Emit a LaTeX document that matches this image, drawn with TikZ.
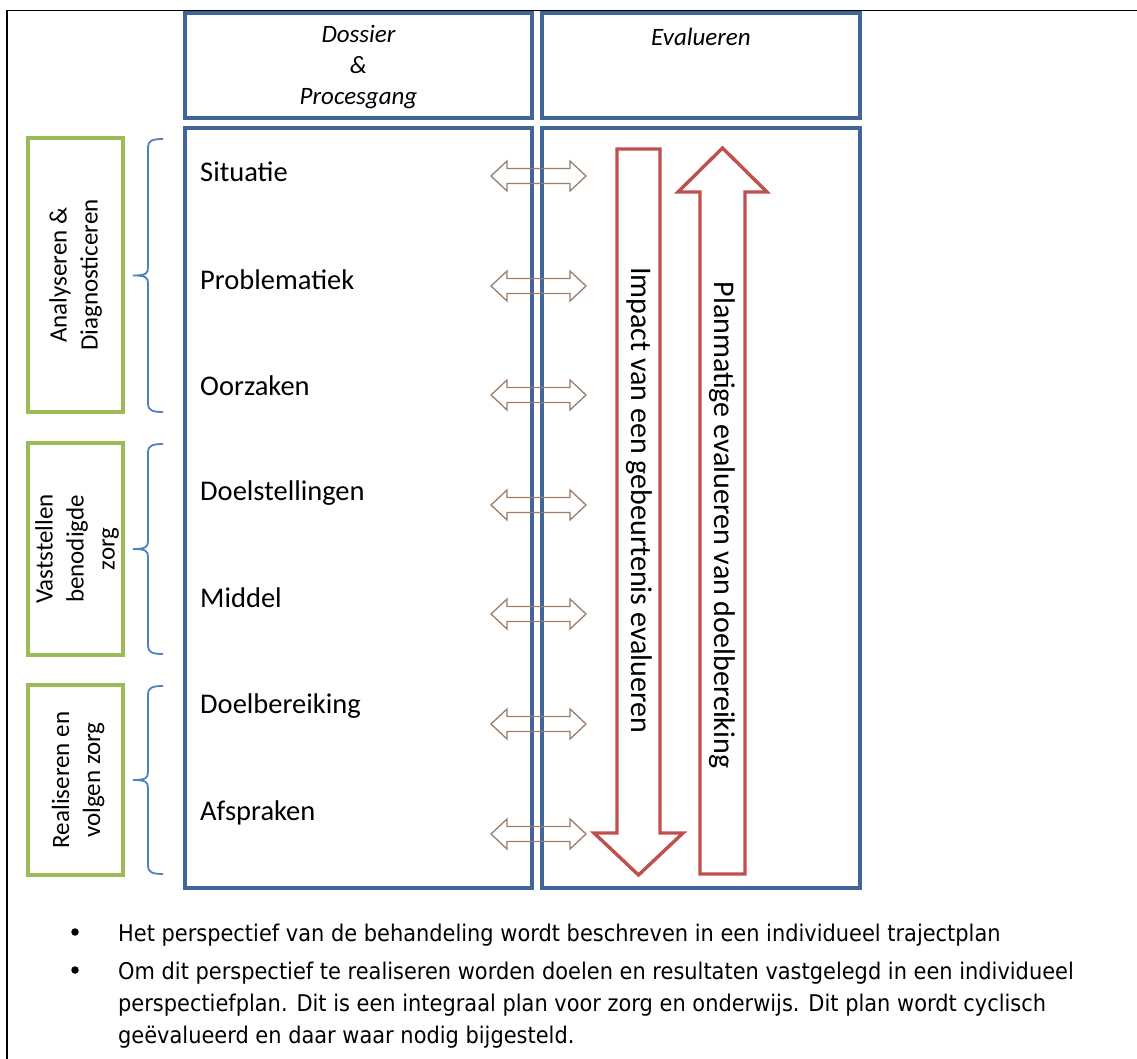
\documentclass[tikz,border=0pt]{standalone}
\usepackage{fontspec}
\setmainfont{Carlito}
\newfontfamily\bulfont[FakeStretch=0.91]{DejaVu Sans}
\definecolor{boxblue}{RGB}{64,101,150}
\definecolor{brblue}{RGB}{79,129,189}
\definecolor{lgreen}{RGB}{155,187,89}
\definecolor{arred}{RGB}{192,80,77}
\definecolor{dbl}{RGB}{155,125,105}
\tikzset{
  x=1pt,y=-1pt,
  bluebox/.style={draw=boxblue,line width=3.2pt},
  greenbox/.style={draw=lgreen,line width=3.2pt},
  bracestyle/.style={draw=brblue,line width=1.8pt},
  redarrow/.style={draw=arred,line width=3.4pt,fill=white,line join=miter},
  dblarrow/.style={draw=dbl,line width=1.3pt},
  steplabel/.style={anchor=base west,inner sep=0pt,font=\fontsize{28.5}{34}\selectfont},
  sidelabel/.style={rotate=90,align=center,inner sep=0pt,font=\fontsize{25}{31}\selectfont},
  headlabel/.style={align=center,inner sep=0pt,font=\fontsize{25}{31}\selectfont\itshape},
  vlabel/.style={rotate=-90,inner sep=0pt,font=\fontsize{30}{36}\selectfont},
  bultext/.style={anchor=base west,inner sep=0pt,font=\bulfont\fontsize{23}{32}\selectfont},
  buldot/.style={circle,fill=black,inner sep=0pt,minimum size=7.5pt}
}
\begin{document}
\begin{tikzpicture}
\useasboundingbox (0,0) rectangle (1137,1059);
% outer frame
\draw[line width=1.6pt] (7,1059) -- (7,10.5) -- (1137,10.5);
% header boxes
\draw[bluebox] (185,13) rectangle (532,118);
\draw[bluebox] (542,13) rectangle (860,118);
\node[headlabel] (hdos) at (358.5,67) {Dossier\\\&\\Procesgang};
\node[headlabel] (heva) at (701,37) {Evalueren};
% main boxes
\draw[bluebox] (185,128) rectangle (532,888);
\draw[bluebox] (542,128) rectangle (860,888);
% green boxes
\draw[greenbox] (28,138) rectangle (123,412);
\draw[greenbox] (28,443) rectangle (123,655);
\draw[greenbox] (28,685) rectangle (123,875);
\node[sidelabel] (g1) at (75.5,275) {Analyseren \&\\Diagnosticeren};
\node[sidelabel] (g2) at (77,549) {Vaststellen\\benodigde\\zorg};
\node[sidelabel] (g3) at (78,780) {Realiseren en\\volgen zorg};
% braces
\foreach \t/\b in {139/412, 444/654, 686/874}{
  \pgfmathsetmacro{\m}{(\t+\b)/2}
  \draw[bracestyle] (163,\t) .. controls (152,\t) and (148,\t+2) .. (148,\t+8)
    -- (148,\m-8) .. controls (148,\m-2) and (146,\m) .. (133,\m)
    .. controls (146,\m) and (148,\m+2) .. (148,\m+8)
    -- (148,\b-8) .. controls (148,\b-2) and (152,\b) .. (163,\b);
}
% step labels
\node[steplabel] (s1) at (200,182) {Situatie};
\node[steplabel] (s2) at (200,289) {Problematiek};
\node[steplabel] (s3) at (200,395) {Oorzaken};
\node[steplabel] (s4) at (200,500) {Doelstellingen};
\node[steplabel] (s5) at (200,607) {Middel};
\node[steplabel] (s6) at (200,713) {Doelbereiking};
\node[steplabel] (s7) at (200,820) {Afspraken};
% double arrows
\foreach \c in {176,286,395,505,614,724,834}{
  \draw[dblarrow] (491,\c) -- (507,\c-15) -- (507,\c-7.5) -- (570,\c-7.5) -- (570,\c-15)
    -- (586,\c) -- (570,\c+15) -- (570,\c+7.5) -- (507,\c+7.5) -- (507,\c+15) -- cycle;
}
% red arrows
\draw[redarrow] (617,149) -- (660,149) -- (660,833) -- (683,833) -- (638.5,875) -- (594,833) -- (617,833) -- cycle;
\draw[redarrow] (722.5,148) -- (767,192) -- (745,192) -- (745,874) -- (700,874) -- (700,192) -- (678,192) -- cycle;
\node[vlabel] (imp) at (639.5,500) {Impact van een gebeurtenis evalueren};
\node[vlabel] (plan) at (722.5,525) {Planmatige evalueren van doelbereiking};
% bullets
\node[buldot] (b1) at (75,932) {};
\node[buldot] (b2) at (75,970) {};
\node[bultext] (t1) at (118,941) {Het perspectief van de behandeling wordt beschreven in een individueel trajectplan};
\node[bultext] (t2) at (118,979) {Om dit perspectief te realiseren worden doelen en resultaten vastgelegd in een individueel};
\node[bultext] (t3) at (118,1011) {perspectiefplan. Dit is een integraal plan voor zorg en onderwijs. Dit plan wordt cyclisch};
\node[bultext] (t4) at (118,1043) {geëvalueerd en daar waar nodig bijgesteld.};
\end{tikzpicture}
\end{document}
